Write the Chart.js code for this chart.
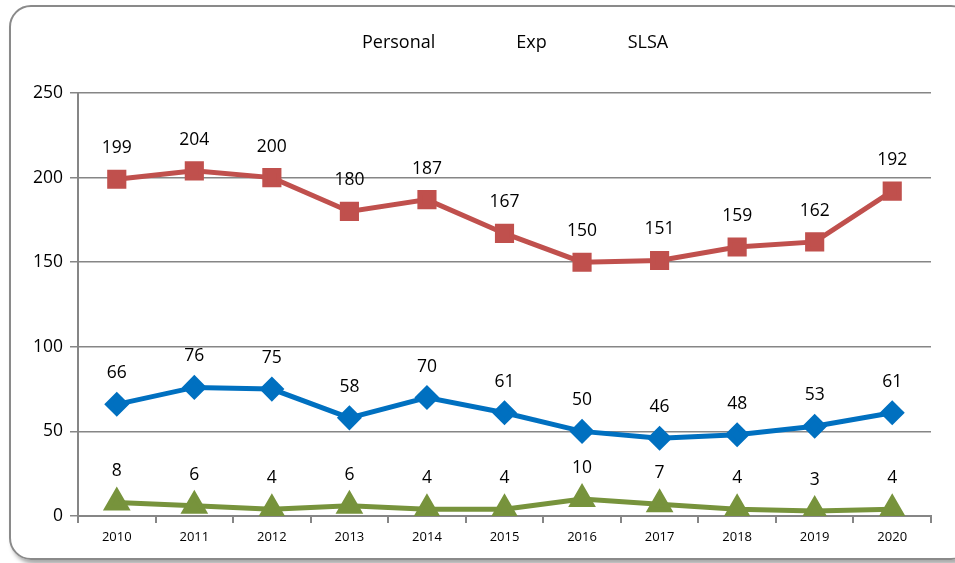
<!DOCTYPE html>
<html>
<head>
<meta charset="utf-8">
<script src="https://cdn.jsdelivr.net/npm/chart.js@4"></script>
<style>
  body { margin: 0; background: #fff; overflow: hidden; }
  #frame {
    position: absolute; left: 9px; top: 5px; width: 960px; height: 551px;
    border: 2px solid #8a8a8a; border-radius: 22px; box-shadow: 3px 4px 4px #aaa;
  }
  #wrap { position: absolute; left: 0; top: 0; width: 955px; height: 563px; }
</style>
</head>
<body>
<div id="frame"></div>
<div id="wrap"><canvas id="chart" width="955" height="563"></canvas></div>
<script>
const years = ["2010", "2011", "2012", "2013", "2014", "2015", "2016", "2017", "2018", "2019", "2020"];
const personal = [66, 76, 75, 58, 70, 61, 50, 46, 48, 53, 61];
const exp = [199, 204, 200, 180, 187, 167, 150, 151, 159, 162, 192];
const slsa = [8, 6, 4, 6, 4, 4, 10, 7, 4, 3, 4];
const FONT = "'Open Sans', sans-serif";

// draw value labels above every point (no datalabels plugin available)
const pointLabels = {
  id: "pointLabels",
  afterDatasetsDraw(chart) {
    const ctx = chart.ctx;
    ctx.save();
    ctx.font = "17.5px " + FONT;
    ctx.fillStyle = "#000";
    ctx.textAlign = "center";
    ctx.textBaseline = "middle";
    chart.data.datasets.forEach((ds, i) => {
      chart.getDatasetMeta(i).data.forEach((pt, j) => {
        ctx.fillText(ds.data[j], pt.x, pt.y - 31);
      });
    });
    ctx.restore();
  }
};

// plain text legend, like the original
const textLegend = {
  id: "textLegend",
  afterDraw(chart) {
    const ctx = chart.ctx;
    ctx.save();
    ctx.font = "18px " + FONT;
    ctx.fillStyle = "#000";
    ctx.textBaseline = "middle";
    let x = 362;
    chart.data.datasets.forEach(ds => {
      ctx.fillText(ds.label, x, 43);
      x += ctx.measureText(ds.label).width + 81;
    });
    ctx.restore();
  }
};

new Chart(document.getElementById("chart"), {
  type: "line",
  data: {
    labels: years,
    datasets: [
      {
        label: "Personal",
        data: personal,
        borderColor: "#0070C0",
        backgroundColor: "#0070C0",
        borderWidth: 5,
        pointStyle: "rectRot",
        pointRadius: 9,
        pointHoverRadius: 9,
        tension: 0
      },
      {
        label: "Exp",
        data: exp,
        borderColor: "#C0504D",
        backgroundColor: "#C0504D",
        borderWidth: 5,
        pointStyle: "rect",
        pointRadius: 10,
        pointHoverRadius: 10,
        tension: 0
      },
      {
        label: "SLSA",
        data: slsa,
        borderColor: "#77933C",
        backgroundColor: "#77933C",
        borderWidth: 5,
        pointStyle: "triangle",
        pointRadius: 11,
        pointHoverRadius: 11,
        tension: 0
      }
    ]
  },
  options: {
    responsive: false,
    animation: false,
    layout: { padding: { top: 93, right: 24, left: 0, bottom: 0 } },
    plugins: {
      legend: { display: false },
      tooltip: { enabled: false }
    },
    scales: {
      x: {
        offset: true,
        grid: {
          offset: true,
          drawOnChartArea: false,
          color: "#868686",
          tickLength: 7,
          lineWidth: 2
        },
        border: { color: "#868686", width: 2 },
        ticks: { color: "#000", font: { family: FONT, size: 13 }, padding: 6, maxRotation: 0 },
        afterFit(scale) { scale.height = 47; }
      },
      y: {
        min: 0,
        max: 250,
        ticks: { stepSize: 50, color: "#000", font: { family: FONT, size: 17.5 }, padding: 7, },
        grid: { color: "#868686", lineWidth: 1.5, tickLength: 8 },
        border: { color: "#868686", width: 2 },
        afterFit(scale) { scale.width = 78; }
      }
    }
  },
  plugins: [pointLabels, textLegend]
});
</script>
</body>
</html>
